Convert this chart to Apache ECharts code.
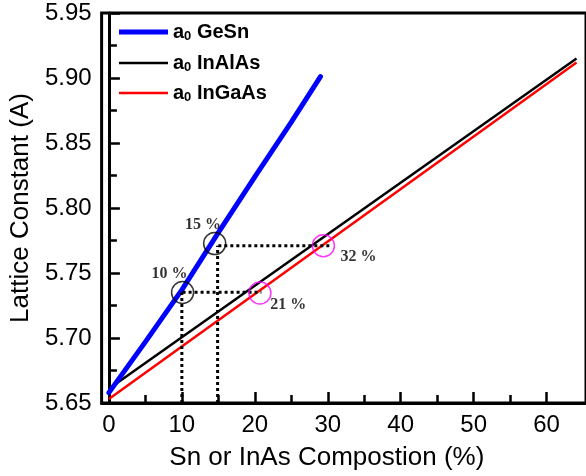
<!DOCTYPE html>
<html>
<head>
<meta charset="utf-8">
<script src="https://cdn.jsdelivr.net/npm/echarts@6/dist/echarts.min.js"></script>
<style>
  html, body { margin: 0; padding: 0; background: #fff; }
  #main { width: 586px; height: 476px; }
</style>
</head>
<body>
<div id="main"></div>
<script>
// lattice constant vs composition
var geSn = [[0, 5.658], [5, 5.697], [10, 5.737], [15, 5.781], [20, 5.824], [25, 5.866], [29, 5.901]];
var inAlAs = [[0, 5.661], [64.1, 5.915]];
var inGaAs = [[0, 5.653], [64.1, 5.912]];

var blackCircles = [[10.1, 5.735], [14.5, 5.7726]];
var pinkCircles = [[20.7, 5.7346], [29.4, 5.771]];

// dotted guide segments
var guides = [
    [[10, 5.65], [10, 5.7352]],
    [[10.1, 5.7352], [20.9, 5.7352]],
    [[14.9, 5.65], [14.9, 5.771]],
    [[15, 5.771], [30.3, 5.771]]
];

var pctLabels = [
    { text: '10 %', pos: [8.3, 5.749] },
    { text: '15 %', pos: [12.9, 5.7867] },
    { text: '21 %', pos: [24.6, 5.7252] },
    { text: '32 %', pos: [34.2, 5.7623] }
];

var xMajor = [0, 10, 20, 30, 40, 50, 60];
var xMinor = [5, 15, 25, 35, 45, 55];

var myChart = echarts.init(document.getElementById('main'));

var fontMain = 'Liberation Sans, Arial, sans-serif';

var series = [
    {
        name: 'InAlAs', type: 'line', data: inAlAs, symbol: 'none',
        lineStyle: { color: '#000', width: 2.5 }, itemStyle: { color: '#000' }, z: 3
    },
    {
        name: 'InGaAs', type: 'line', data: inGaAs, symbol: 'none',
        lineStyle: { color: '#ff0000', width: 2.5 }, itemStyle: { color: '#ff0000' }, z: 4
    },
    {
        name: 'GeSn', type: 'line', data: geSn, symbol: 'none',
        lineStyle: { color: '#0000ff', width: 5, cap: 'round' }, itemStyle: { color: '#0000ff' }, z: 5
    }
];

guides.forEach(function (seg) {
    series.push({
        type: 'line', data: seg, symbol: 'none', silent: true, z: 6,
        lineStyle: { color: '#000', width: 3, type: [3, 3] }
    });
});

series.push({
    type: 'scatter', data: blackCircles, symbol: 'circle', symbolSize: 22, z: 7,
    itemStyle: { color: 'rgba(0,0,0,0)', borderColor: '#000', borderWidth: 1.5 }
});
series.push({
    type: 'scatter', data: pinkCircles, symbol: 'circle', symbolSize: 22, z: 7,
    itemStyle: { color: 'rgba(0,0,0,0)', borderColor: '#ff00ff', borderWidth: 1.5 }
});
series.push({
    type: 'scatter', symbolSize: 0, z: 8,
    data: pctLabels.map(function (d) { return { value: d.pos, name: d.text }; }),
    label: {
        show: true, position: 'inside', formatter: '{b}',
        fontFamily: 'Liberation Serif, Times New Roman, serif', fontWeight: 'bold',
        fontSize: 16, color: '#000'
    }
});

function makeLegend(name, top, thick) {
    return {
        data: [name], icon: 'rect', left: 119, top: top,
        itemWidth: 49, itemHeight: thick, itemGap: 0, padding: 0,
        formatter: function (n) { return '{m|a}{s|0}{m| ' + n + '}'; },
        textStyle: {
            fontSize: 20, fontWeight: 'bold', color: '#000',
            rich: {
                m: { fontFamily: fontMain, fontWeight: 'bold', fontSize: 20, color: '#000', lineHeight: 22, verticalAlign: 'middle' },
                s: { fontFamily: fontMain, fontWeight: 'bold', fontSize: 13, color: '#000', lineHeight: 22, verticalAlign: 'bottom', padding: [7, 0, 0, 0] }
            }
        }
    };
}

var option = {
    animation: false,
    grid: {
        left: 101, top: 13, width: 489, height: 390,
        show: true, borderColor: '#000', borderWidth: 3
    },
    legend: [
        makeLegend('GeSn', 22, 5),
        makeLegend('InAlAs', 53, 2.5),
        makeLegend('InGaAs', 83, 2.5)
    ],
    xAxis: [
        {
            type: 'value', min: -1, max: 65.4,
            name: 'Sn or InAs Compostion (%)', nameLocation: 'middle', nameGap: 42,
            nameTextStyle: { fontFamily: fontMain, fontSize: 26, color: '#000', padding: [0, 34, 0, 0] },
            axisLine: { show: true, onZero: false, lineStyle: { color: '#000', width: 3 } },
            axisTick: { show: true, inside: true, length: 11, customValues: xMajor, lineStyle: { color: '#000', width: 2.5 } },
            axisLabel: { show: true, customValues: xMajor, margin: 10, fontFamily: fontMain, fontSize: 24, color: '#000' },
            splitLine: { show: false }
        },
        {
            type: 'value', min: -1, max: 65.4, position: 'bottom',
            axisLine: { show: false },
            axisTick: { show: true, inside: true, length: 8, customValues: xMinor, lineStyle: { color: '#000', width: 2.5 } },
            axisLabel: { show: false },
            splitLine: { show: false }
        }
    ],
    yAxis: {
        type: 'value', min: 5.65, max: 5.95, interval: 0.05,
        name: 'Lattice Constant (A)', nameLocation: 'middle', nameGap: 64,
        nameTextStyle: { fontFamily: fontMain, fontSize: 26, color: '#000' },
        axisLine: { show: true, lineStyle: { color: '#000', width: 3 } },
        axisTick: { show: true, inside: true, length: 11, lineStyle: { color: '#000', width: 2.5 } },
        minorTick: { show: true, splitNumber: 2, length: 8, lineStyle: { color: '#000', width: 2.5 } },
        axisLabel: {
            margin: 10, fontFamily: fontMain, fontSize: 24, color: '#000',
            formatter: function (v) { return v.toFixed(2); }
        },
        splitLine: { show: false }
    },
    series: series
};

myChart.setOption(option);
</script>
</body>
</html>
